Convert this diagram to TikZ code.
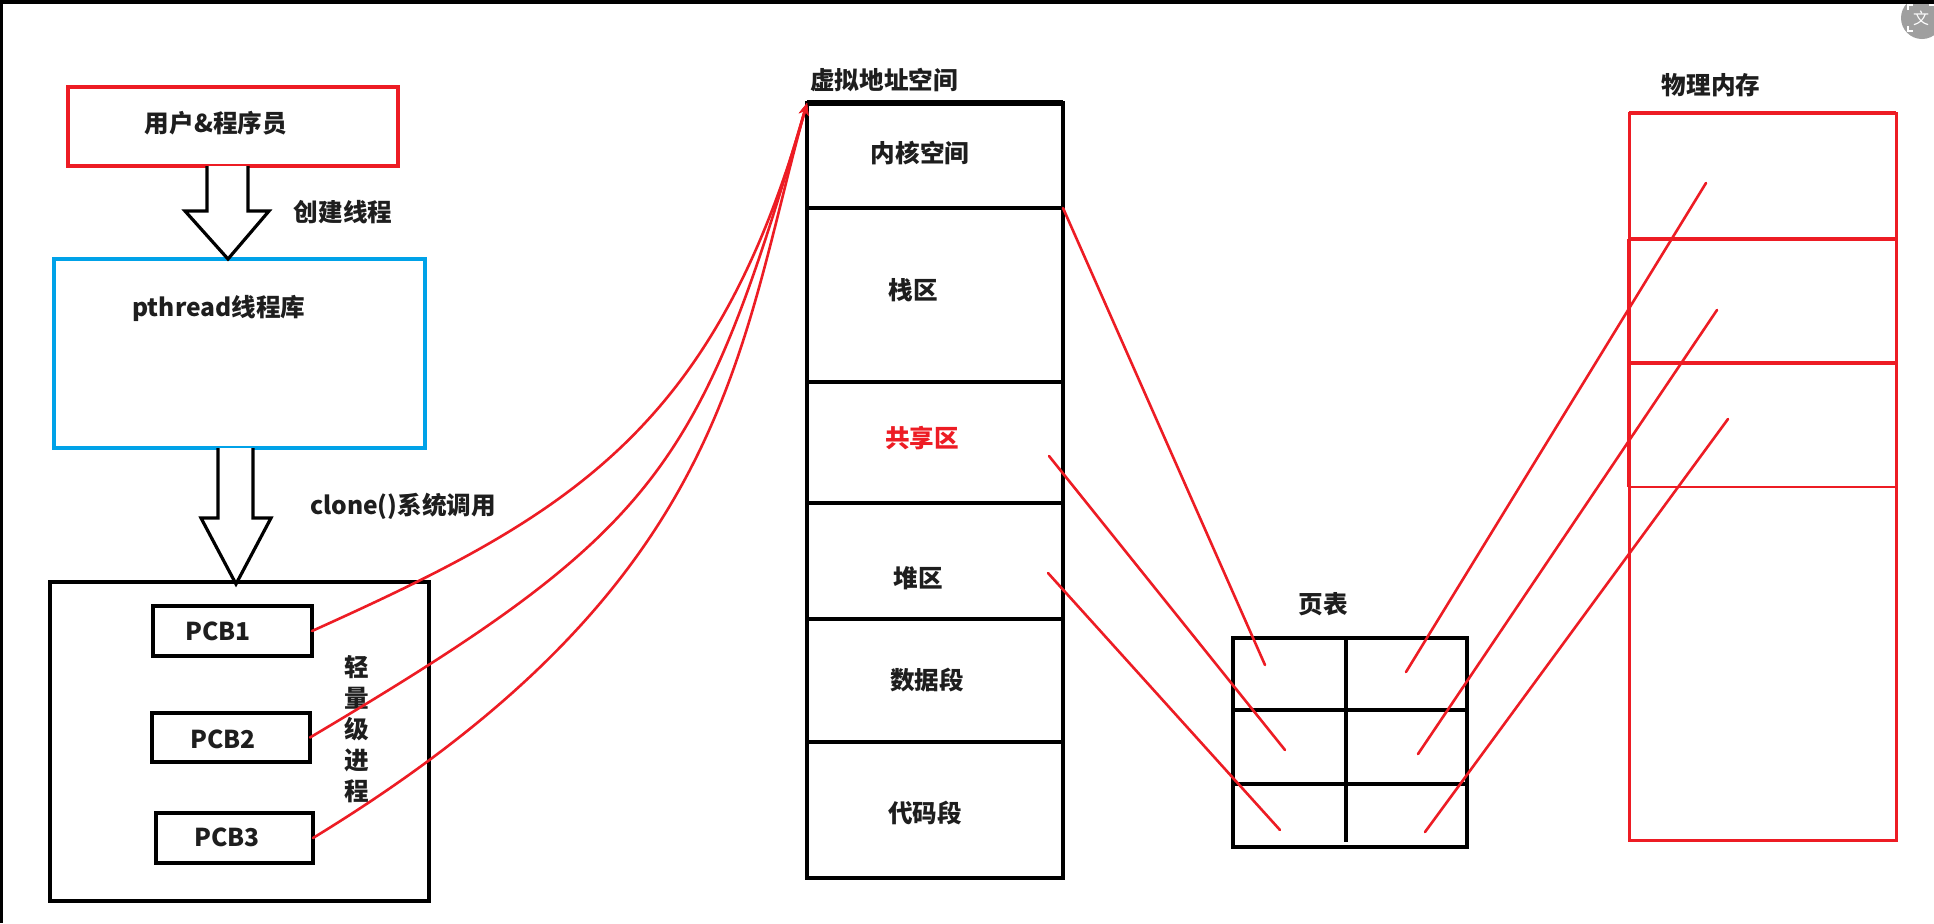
\documentclass[tikz,border=0pt]{standalone}
\usepackage{fontspec}
\setmainfont{Noto Sans CJK SC}
\usetikzlibrary{arrows.meta,calc}
\definecolor{pred}{RGB}{237,28,36}
\definecolor{pblue}{RGB}{0,162,232}
\definecolor{ink}{RGB}{30,30,30}
\begin{document}
\begin{tikzpicture}[x=0.5pt,y=-0.5pt,
  box/.style={draw,line width=1.6pt,inner sep=0pt,outer sep=0pt},
  redbox/.style={draw=pred,line width=1.6pt,inner sep=0pt,outer sep=0pt},
  lbl/.style={text=ink,inner sep=0pt,font=\fontsize{12.3}{15.5}\selectfont\bfseries},
  link/.style={pred,line width=1.3pt,line cap=round},
  blockarrow/.style={draw,line width=1.6pt,fill=white,line join=miter}
]
\useasboundingbox (0,0) rectangle (1934,923);
\fill[white] (0,0) rectangle (1934,923);

% left column
\node[redbox,minimum width=165pt,minimum height=39.5pt] (user) at (233,126.5) {};
\node[lbl] (userT) at (216,123) {用户\&程序员};
\node[draw=pblue,line width=1.6pt,inner sep=0pt,outer sep=0pt,minimum width=185.5pt,minimum height=94.5pt] (lib) at (239.5,353.5) {};
\node[lbl] (libT) at (219,308) {pthread线程库};
\node[box,minimum width=189.5pt,minimum height=159.5pt] (lwp) at (239.5,741.5) {};
\node[box,minimum width=79.5pt,minimum height=25pt] (pcb1) at (232.5,631) {};
\node[box,minimum width=79pt,minimum height=24.5pt] (pcb2) at (231,737.5) {};
\node[box,minimum width=78.5pt,minimum height=25pt] (pcb3) at (234.5,838) {};
\node[lbl] (pcb1T) at (218,631) {PCB1};
\node[lbl] (pcb2T) at (223,739) {PCB2};
\node[lbl] (pcb3T) at (227,837) {PCB3};
\node[lbl,align=center] (lwpT) at (357,729.5) {轻\\量\\级\\进\\程};

% block arrows
\draw[blockarrow] (207,0 |- user.south) -- (207,211) -- (185,211) -- (228,0 |- lib.north) -- (269,211) -- (248,211) -- (248,0 |- user.south);
\node[lbl] (createT) at (343,212) {创建线程};
\draw[blockarrow] (218,0 |- lib.south) -- (218,518) -- (201,518) -- (236,584) -- (271,518) -- (253,518) -- (253,0 |- lib.south);
\node[lbl] (cloneT) at (403,506) {clone()系统调用};

% virtual address space
\node[lbl] (vasT) at (884,80) {虚拟地址空间};
\node[box,minimum width=128pt,minimum height=52.5pt] (kern) at (935,155.5) {};
\node[box,minimum width=128pt,minimum height=87pt] (stack) at (935,295) {};
\node[box,minimum width=128pt,minimum height=60.5pt] (shared) at (935,442.5) {};
\node[box,minimum width=128pt,minimum height=58pt] (heap) at (935,561) {};
\node[box,minimum width=128pt,minimum height=61.5pt] (data) at (935,680.5) {};
\node[box,minimum width=128pt,minimum height=68pt] (code) at (935,810) {};
\draw[line width=2.6pt] (kern.north west) -- (kern.north east);
\node[lbl] (kernT) at (920,153) {内核空间};
\node[lbl] (stackT) at (913,290) {栈区};
\node[lbl,text=pred] (sharedT) at (922,438) {共享区};
\node[lbl] (heapT) at (918,578) {堆区};
\node[lbl] (dataT) at (927,680) {数据段};
\node[lbl] (codeT) at (925,813) {代码段};

% page table
\node[lbl] (ptT) at (1323,604) {页表};
\node[box,minimum width=117pt,minimum height=104.5pt] (pt) at (1350,742.5) {};
\draw[line width=1.6pt] (pt.west |- 0,710) -- (pt.east |- 0,710);
\draw[line width=1.6pt] (pt.west |- 0,784) -- (pt.east |- 0,784);
\draw[line width=1.6pt] (1346,0 |- pt.north) -- (1346,842);

% physical memory
\node[lbl] (pmT) at (1711,85) {物理内存};
\node[redbox,line width=1.5pt,minimum width=133.5pt,minimum height=363.5pt] (pm) at (1762.5,476.5) {};
\draw[pred,line width=2.2pt] (pm.north west) -- (pm.north east);
\draw[pred,line width=1.7pt] (pm.west |- 0,239) -- (pm.east |- 0,239);
\draw[pred,line width=1.7pt] (pm.west |- 0,363) -- (pm.east |- 0,363);
\draw[pred,line width=1.4pt] (pm.west |- 0,487) -- (pm.east |- 0,487);
\draw[pred,line width=2.2pt] (pm.west |- 0,239) -- (pm.west |- 0,487);

% curves PCB -> virtual address space
\draw[link,-{Stealth[length=6pt,width=5pt]}] (pcb1.east) .. controls (565,517) and (714,433) .. (kern.north west);
\draw[link,-{Stealth[length=6pt,width=5pt]}] (pcb2.east) .. controls (660,530) and (700,469) .. (kern.north west);
\draw[link,-{Stealth[length=6pt,width=5pt]}] (pcb3.east) .. controls (729,584) and (737,355) .. (kern.north west);

% virtual -> page table
\coordinate (a2) at (1265,665);
\coordinate (b1) at (1049,456);
\coordinate (b2) at (1285,750);
\coordinate (c1) at (1048,573);
\coordinate (c2) at (1280,830);
\draw[link] (kern.south east) -- (a2);
\draw[link] (b1) -- (b2);
\draw[link] (c1) -- (c2);

% page table -> physical memory
\coordinate (d1) at (1406,672);
\coordinate (d2) at (1706,183);
\coordinate (e1) at (1418,754);
\coordinate (e2) at (1717,310);
\coordinate (f1) at (1425,832);
\coordinate (f2) at (1728,419);
\draw[link] (d1) -- (d2);
\draw[link] (e1) -- (e2);
\draw[link] (f1) -- (f2);

% screenshot frame and icon
\fill[gray!75] (1922,18) circle[radius=10.5pt];
\node[text=white,inner sep=0pt,font=\fontsize{8}{8}\selectfont] (icon) at (1921,18) {文};
\draw[white,line width=0.6pt] (1908,10) -- (1908,5) -- (1913,5) (1929,5) -- (1934,5) (1908,26) -- (1908,31) -- (1913,31);
\fill[black] (0,0) rectangle (1934,4);
\fill[black] (0,0) rectangle (3,923);
\end{tikzpicture}
\end{document}
